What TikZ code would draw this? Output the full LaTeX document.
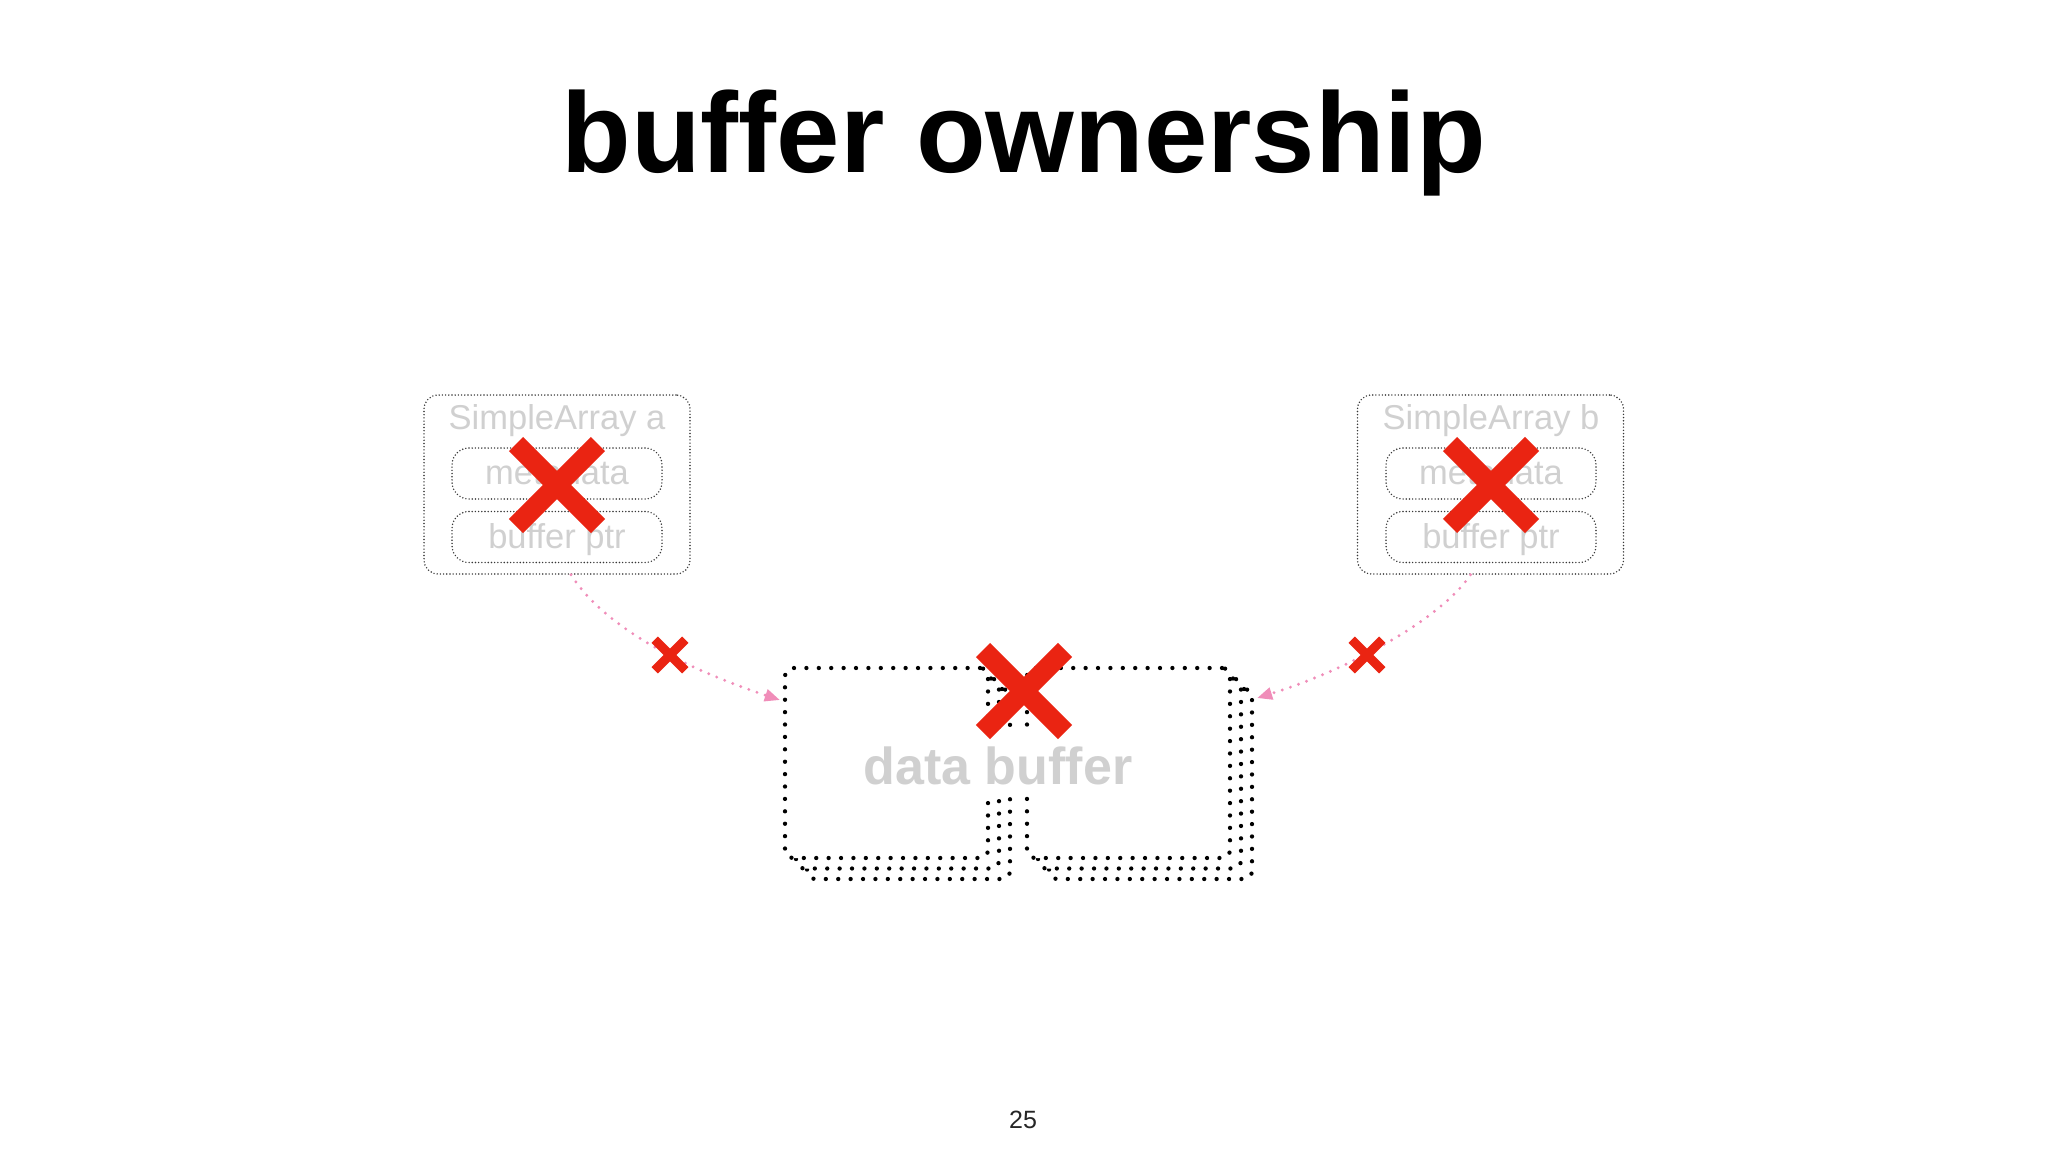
\documentclass[tikz,border=0pt]{standalone}
\usepackage{fontspec}
\setmainfont{Liberation Sans}
\usetikzlibrary{arrows.meta}
\definecolor{xred}{HTML}{EA2412}
\definecolor{ghost}{HTML}{D0D0D0}
\definecolor{pinkline}{HTML}{F08DB9}
\definecolor{dotgray}{HTML}{383838}
\tikzset{
  finedot/.style={draw=dotgray, line width=1.6pt, dash pattern=on 0pt off 3.2pt, line cap=round},
  outerbox/.style={finedot, rounded corners=14pt, minimum width=266pt, minimum height=179pt, inner sep=0pt},
  innerbox/.style={finedot, rounded corners=17pt, minimum width=210pt, minimum height=51pt, inner sep=0pt},
  ghosttext/.style={text=ghost, font=\fontsize{34.5}{34.5}\selectfont, inner sep=0pt, anchor=base},
  bufbox/.style={draw=black, line width=4.3pt, dash pattern=on 0pt off 12.4pt, line cap=round, fill=white, rounded corners=8pt, minimum width=203pt, minimum height=190pt, inner sep=0pt},
  pinkarrow/.style={draw=pinkline, line width=3.2pt, dash pattern=on 0pt off 8.6pt, line cap=round, -{Triangle[length=15pt,width=12pt,fill=pinkline]}},
  pics/bigx/.style={code={\draw[xred, line width=20pt] (-41,-41) -- (41,41) (-41,41) -- (41,-41);}},
  pics/smallx/.style={code={\draw[xred, line width=9pt] (-15.3,-15.3) -- (15.3,15.3) (-15.3,15.3) -- (15.3,-15.3);}}
}
\begin{document}
\begin{tikzpicture}[x=1pt, y=-1pt]
\useasboundingbox[fill=white] (0,0) rectangle (2048,1152);

% title
\node[anchor=base, inner sep=0pt, font=\fontsize{114}{114}\selectfont\bfseries] (title) at (1024,172) {buffer ownership};

% SimpleArray a
\node[outerbox] (boxa) at (557,484.5) {};
\node[innerbox] (metaa) at (557,473.5) {};
\node[innerbox] (ptra) at (557,537) {};
\node[ghosttext] (labela) at (557,429) {SimpleArray a};
\node[ghosttext] (metatexta) at (557,484) {metadata};
\node[ghosttext] (ptrtexta) at (557,548) {buffer ptr};

% SimpleArray b
\node[outerbox] (boxb) at (1490.5,484.5) {};
\node[innerbox] (metab) at (1491,473.5) {};
\node[innerbox] (ptrb) at (1491,537) {};
\node[ghosttext] (labelb) at (1491,429) {SimpleArray b};
\node[ghosttext] (metatextb) at (1491,484) {metadata};
\node[ghosttext] (ptrtextb) at (1491,548) {buffer ptr};

% data buffer stacks
\node[bufbox] (bufL2) at (908.5,784) {};
\node[bufbox] (bufL1) at (897.5,773.5) {};
\node[bufbox] (bufL) at (886.5,763) {};
\node[bufbox] (bufR2) at (1150.5,784) {};
\node[bufbox] (bufR1) at (1139.5,773.5) {};
\node[bufbox] (bufR) at (1128.5,763) {};
\node[anchor=base, fill=white, text=ghost, font=\fontsize{52}{52}\selectfont\bfseries, text height=48pt, text depth=5pt, inner xsep=4pt, inner ysep=5pt] (dbtext) at (998,784) {data buffer};

% arrows
\draw[pinkarrow] ([xshift=14pt]boxa.south) .. controls +(35,55) and +(-90,-30) .. ([yshift=63pt, xshift=-3pt]bufL.west);
\draw[pinkarrow] ([xshift=-20pt]boxb.south) .. controls +(-30,45) and +(90,-28) .. ([yshift=86pt, xshift=3pt]bufR2.east);

% crosses
\pic at (557,485) {bigx};
\pic at (1491,485) {bigx};
\pic at (1024,691) {bigx};
\pic at (670,655) {smallx};
\pic at (1367,655) {smallx};

% page number
\node[anchor=base, inner sep=0pt, text=black!85, font=\fontsize{25}{25}\selectfont] (pagenum) at (1023,1128) {25};
\end{tikzpicture}
\end{document}
